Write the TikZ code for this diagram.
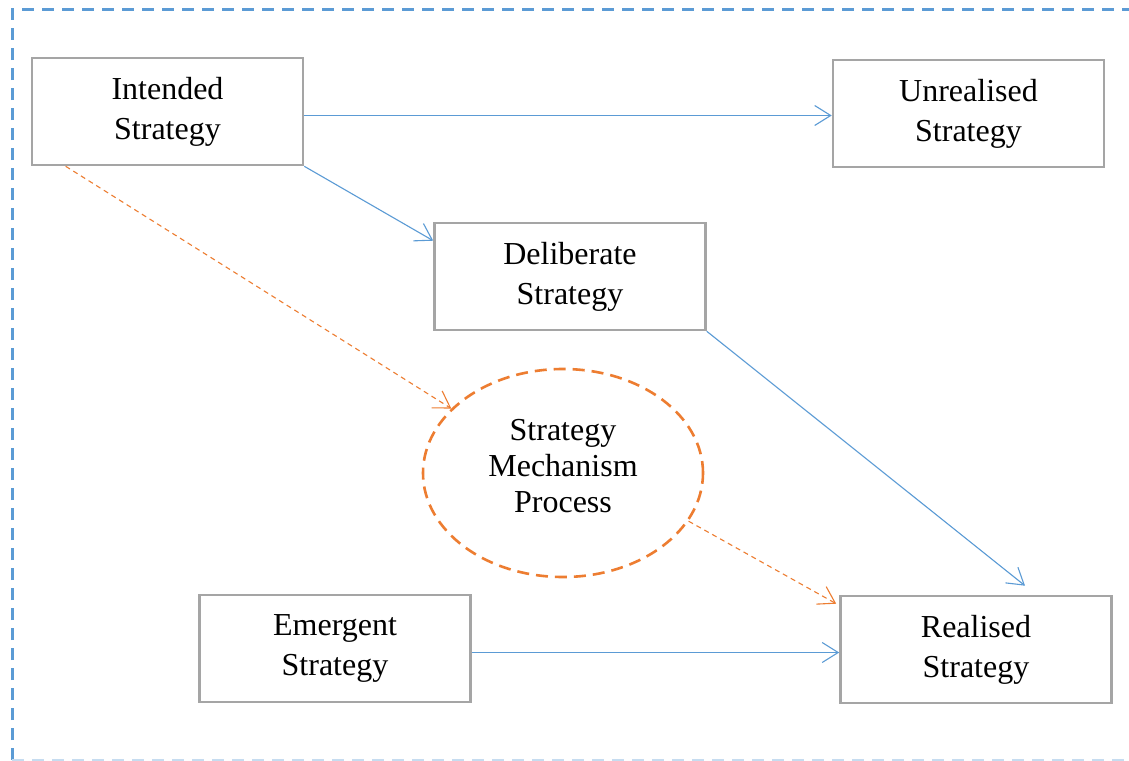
\documentclass[tikz,border=0pt]{standalone}
\usepackage{fontspec}
\setmainfont{Liberation Serif}
\usetikzlibrary{arrows.meta,calc,shapes.geometric}
\definecolor{lineblue}{HTML}{5B9BD5}
\definecolor{lineorange}{HTML}{ED7D31}
\definecolor{boxgray}{HTML}{A5A5A5}
\begin{document}
\begin{tikzpicture}[x=1pt,y=-1pt,
  stratbox/.style={draw=boxgray,line width=2.6pt,minimum width=271pt,minimum height=107pt,
    inner sep=0pt,align=center,font=\fontsize{32}{40}\selectfont},
  mechnode/.style={draw=lineorange,line width=2.6pt,dash pattern=on 12pt off 7pt,ellipse,
    minimum width=280pt,minimum height=208pt,inner sep=0pt},
  mechtext/.style={align=center,inner sep=0pt,font=\fontsize{32}{36}\selectfont},
  flow/.style={draw=lineblue,line width=1.1pt,-{Straight Barb[length=16pt,width=20pt]}},
  flowdash/.style={draw=lineorange,line width=1.1pt,dash pattern=on 5pt off 4pt,
    -{Straight Barb[length=16pt,width=20pt]}}]
\useasboundingbox (0,0) rectangle (1129,760);
\fill[white] (0,0) rectangle (1129,760);
% outer dashed frame
\draw[lineblue,line width=3pt,dash pattern=on 12pt off 8pt] (12,760) -- (12,10) -- (1140,10);
\draw[lineblue!35,line width=3pt,dash pattern=on 12pt off 8pt] (12,760) -- (1140,760);
% strategy boxes
\node[stratbox] (int) at (167.5,111.5) {Intended\\Strategy};
\node[stratbox] (unr) at (968.5,113.5) {Unrealised\\Strategy};
\node[stratbox] (del) at (570,276.5) {Deliberate\\Strategy};
\node[mechnode] (mech) at (563,473) {};
\node[mechtext] (mechlabel) at ($(mech.center)+(0,-7)$) {Strategy\\Mechanism\\Process};
\node[stratbox] (eme) at (335,648.5) {Emergent\\Strategy};
\node[stratbox] (rea) at (976,649.5) {Realised\\Strategy};
% arrow end points
\coordinate (intright) at ($(int.east)+(0,4)$);
\coordinate (emeright) at ($(eme.east)+(0,4)$);
\coordinate (intout) at ($(int.south west)+(35,0)$);
\coordinate (delin) at ($(del.north west)+(0,19)$);
\coordinate (reatop) at ($(rea.north)+(49,-9)$);
\coordinate (reacorner) at ($(rea.north west)+(-3,9)$);
% connectors
\draw[flow] (intright) -- (intright -| unr.west);
\draw[flow] (int.south east) -- (delin);
\draw[flow] (del.south east) -- (reatop);
\draw[flow] (emeright) -- (emeright -| rea.west);
\draw[flowdash] (intout) -- (mech.150);
\draw[flowdash] (mech.-21) -- (reacorner);
\end{tikzpicture}
\end{document}
